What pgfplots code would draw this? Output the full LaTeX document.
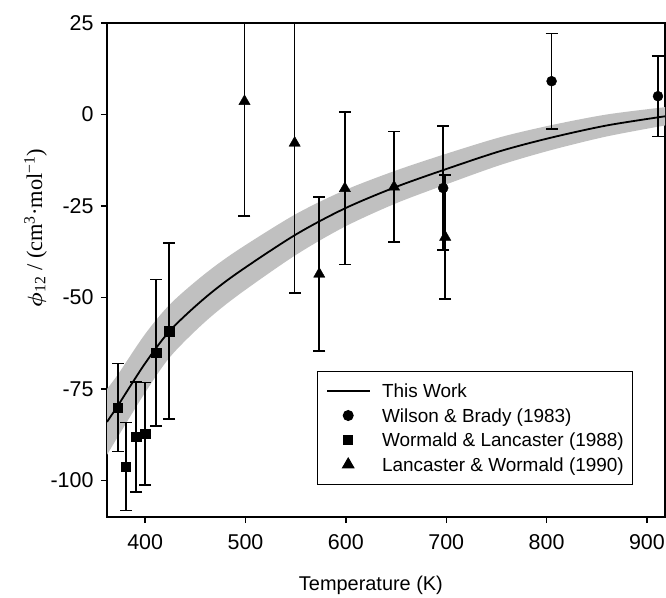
\documentclass[border=0pt]{standalone}
\usepackage{amsmath}
\usepackage{pgfplots}
\pgfplotsset{compat=1.18}
\usepgfplotslibrary{fillbetween}
\usepackage{fontspec}
\setmainfont{Liberation Sans}
\newfontfamily\seriffont{Liberation Serif}

\definecolor{bandgray}{RGB}{192,192,192}

% curve and its uncertainty band
\pgfplotstableread{
T     phi    up     lo
362  -84.0  -75.0  -93.0
373  -79.5  -71.0  -88.0
400  -68.0  -60.0  -76.0
425  -59.0  -51.8  -66.2
458  -50.5  -43.9  -57.1
491  -43.5  -37.3  -49.7
549  -33.0  -27.4  -38.6
598  -25.8  -20.8  -30.8
648  -20.0  -15.5  -24.5
697  -15.2  -11.0  -19.4
754  -10.0   -6.2  -13.8
805  -6.3    -2.9   -9.7
860  -3.0    0.0   -6.0
918  -0.5    2.0   -3.0
}\curve

\pgfplotstableread{
x     y      e
697  -20.1   17.0
805    9.1   13.0
911    5.0   11.0
}\wilson

\pgfplotstableread{
x     y      e
373  -80.1   12.0
381  -96.2   12.0
391  -88.1   15.0
400  -87.2   14.0
411  -65.1   20.0
424  -59.2   24.0
}\wormald

\pgfplotstableread{
x      y      e
499    3.6   31.3
549   -7.8   41.0
573.5 -43.6   21.0
599  -20.2   20.8
648  -19.8   15.1
699  -33.5   17.0
}\lancaster

\begin{document}
\begin{tikzpicture}
\begin{axis}[
scale only axis,
width=558bp, height=494bp,
xmin=362, xmax=918,
ymin=-110, ymax=25,
axis line style={line width=1.6bp},
tick align=outside,
tick pos=left,
major tick length=6bp,
every tick/.style={black, line width=1.4bp},
xtick={400,500,600,700,800,900},
xticklabels={400,500,600,700,800,900},
ytick={-100,-75,-50,-25,0,25},
yticklabels={-100,-75,-50,-25,0,25},
ticklabel style={font=\fontsize{21.5}{23}\selectfont},
xticklabel style={anchor=base, yshift=-26bp},
yticklabel style={xshift=-4bp},
xlabel={Temperature (K)},
every axis x label/.style={at={(axis description cs:0.473,0)}, anchor=base,
  yshift=-73bp, font=\fontsize{20}{22}\selectfont},
ylabel={{\seriffont $\boldsymbol{\phi}$\textsubscript{12} / (cm\textsuperscript{3}\textperiodcentered mol\textsuperscript{−1})}},
every axis y label/.style={at={(axis description cs:-0.128,0.585)}, anchor=center,
  rotate=90, font=\fontsize{22.5}{24}\selectfont},
legend cell align=left,
legend image code/.code={\draw[mark repeat=2,mark phase=2,#1] plot coordinates {(0bp,0bp) (21bp,0bp) (42bp,0bp)};},
legend style={at={(rel axis cs:0.376,0.2955)}, anchor=north west,
  draw=black, line width=1bp, font=\fontsize{19}{21}\selectfont,
  inner xsep=9bp, inner ysep=9bp, column sep=12bp, row sep=3.5bp,
  nodes={inner sep=0pt, text height=17bp, text depth=4bp}},
error bars/error bar style={line width=1.6bp},
error bars/error mark options={rotate=90, mark size=6bp, line width=1.6bp},
]

\addplot[name path=up, draw=none, smooth, forget plot] table[x=T, y=up] {\curve};
\addplot[name path=lo, draw=none, smooth, forget plot] table[x=T, y=lo] {\curve};
\addplot[bandgray, forget plot] fill between[of=up and lo];

\addplot[black, line width=1.8bp, smooth] table[x=T, y=phi] {\curve};
\addlegendentry{This Work}

\addplot[black, only marks, mark=*, mark size=5bp,
  error bars/.cd, y dir=both, y explicit]
  table[x=x, y=y, y error=e] {\wilson};
\addlegendentry{Wilson \& Brady (1983)}

\addplot[black, only marks, mark=square*, mark size=4.6bp,
  error bars/.cd, y dir=both, y explicit]
  table[x=x, y=y, y error=e] {\wormald};
\addlegendentry{Wormald \& Lancaster (1988)}

\addplot[black, only marks, mark=triangle*, mark size=6.5bp,
  error bars/.cd, y dir=both, y explicit]
  table[x=x, y=y, y error=e] {\lancaster};
\addlegendentry{Lancaster \& Wormald (1990)}

\end{axis}
\pgfresetboundingbox
\path[use as bounding box] (-107bp,-81bp) rectangle (559bp,517bp);
\end{tikzpicture}
\end{document}
